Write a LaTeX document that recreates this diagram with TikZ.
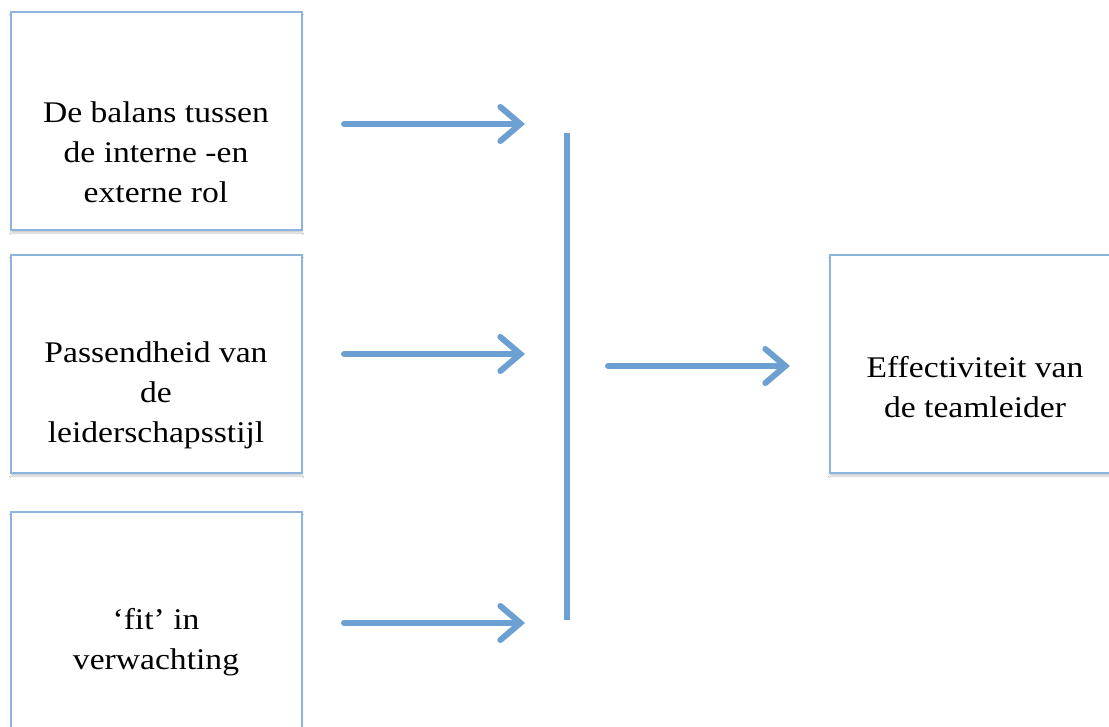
\documentclass[tikz,border=0pt]{standalone}
\usepackage{fontspec}
\setmainfont[FakeStretch=1.12]{Liberation Serif}
\usetikzlibrary{arrows.meta,calc,shadows.blur}
\definecolor{boxline}{RGB}{140,180,222}
\definecolor{arrowblue}{RGB}{108,160,210}
\tikzset{
  x=1pt, y=-1pt,
  box/.style={draw=boxline, line width=2pt, fill=white, minimum width=291pt,
    minimum height=218pt, inner sep=0pt,
    blur shadow={shadow xshift=0pt, shadow yshift=-3pt, shadow blur steps=8, shadow opacity=20}},
  txt/.style={align=center, font=\fontsize{30}{40}\selectfont, inner sep=0pt},
  flow/.style={draw=arrowblue, line width=6pt, line cap=round,
    -{Straight Barb[length=20pt, width=34pt, line cap=round]}},
  bar/.style={draw=arrowblue, line width=6pt}
}
\begin{document}
\begin{tikzpicture}
\useasboundingbox (0,0) rectangle (1109,726);
\fill[white] (0,0) rectangle (1109,726);

% input factors
\node[box] (b1) at (156.5,121) {};
\node[box] (b2) at (156.5,364) {};
\node[box] (b3) at (156.5,621) {};
% outcome
\node[box] (out) at (975.5,364) {};

\node[txt] (t1) at (156,152) {De balans tussen\\de interne -en\\externe rol};
\node[txt] (t2) at (156,395) {Passendheid van\\de\\leiderschapsstijl};
\node[txt] (t3) at (156,642) {‘fit’ in\\verwachting};
\node[txt] (t4) at (975,387) {Effectiviteit van\\de teamleider};

% arrow end points
\coordinate (s1) at (344,124);
\coordinate (e1) at (525,124);
\coordinate (s2) at (344,354);
\coordinate (e2) at (525,354);
\coordinate (s3) at (344,623);
\coordinate (e3) at (525,623);
\coordinate (bt) at (567,133);
\coordinate (bb) at (567,620);
\coordinate (s4) at (608,366);
\coordinate (e4) at (790,366);

\draw[flow] (s1) -- (e1);
\draw[flow] (s2) -- (e2);
\draw[flow] (s3) -- (e3);
\draw[bar] (bt) -- (bb);
\draw[flow] (s4) -- (e4);
\end{tikzpicture}
\end{document}
